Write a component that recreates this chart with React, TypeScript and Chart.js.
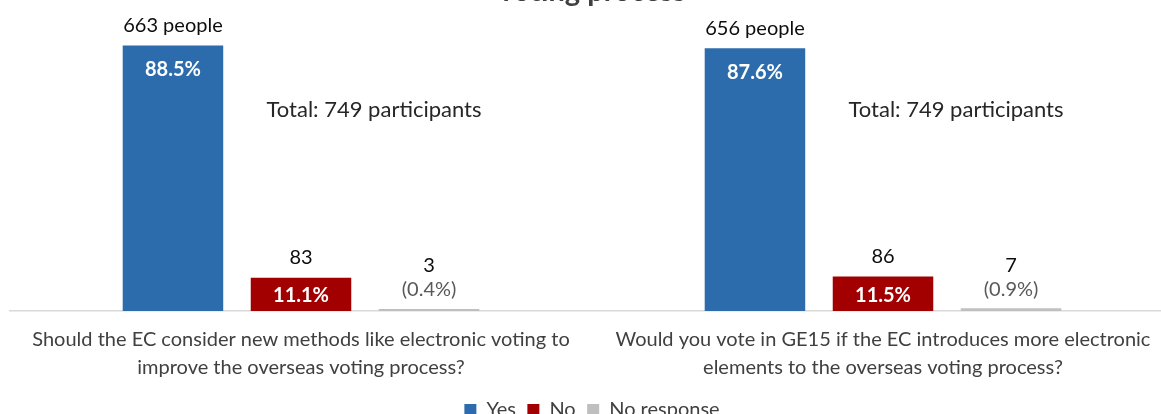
import React, { useEffect, useRef } from "react";
import { Chart, registerables } from "chart.js";

Chart.register(...registerables);

const titleText = "voting process";
const categories = [
  ["Should the EC consider new methods like electronic voting to", "improve the overseas voting process?"],
  ["Would you vote in GE15 if the EC introduces more electronic", "elements to the overseas voting process?"],
];
const seriesNames = ["Yes", "No", "No response"];
const yesCounts = [663, 656];
const noCounts = [83, 86];
const noResponseCounts = [3, 7];
const yesPct = ["88.5%", "87.6%"];
const noPct = ["11.1%", "11.5%"];
const noResponsePct = ["(0.4%)", "(0.9%)"];
const totalParticipants = [749, 749];

const FONT = "Lato, 'Open Sans', sans-serif";
const COLORS = ["#2C6CAC", "#A20000", "#BFBFBF"];

const labelPlugin = {
  id: "customLabels",
  afterDatasetsDraw(chart: any) {
    const ctx = chart.ctx;
    const area = chart.chartArea;
    const xs = chart.scales.x;
    ctx.save();
    // title (mostly outside the visible frame)
    ctx.font = `bold 29px ${FONT}`;
    ctx.fillStyle = "#404040";
    ctx.textAlign = "center";
    ctx.textBaseline = "alphabetic";
    ctx.fillText(titleText, (area.left + area.right) / 2, 1);

    ctx.textBaseline = "middle";
    const yesMeta = chart.getDatasetMeta(0);
    const noMeta = chart.getDatasetMeta(1);
    const nrMeta = chart.getDatasetMeta(2);
    categories.forEach((_, i) => {
      const yb = yesMeta.data[i];
      const nb = noMeta.data[i];
      const rb = nrMeta.data[i];
      // above labels
      ctx.font = `20px ${FONT}`;
      ctx.fillStyle = "#0D0D0D";
      ctx.fillText(`${yesCounts[i]} people`, yb.x, yb.y - 20);
      ctx.fillText(`${noCounts[i]}`, nb.x, nb.y - 20);
      ctx.fillText(`${noResponseCounts[i]}`, rb.x, rb.y - 43);
      ctx.fillStyle = "#595959";
      ctx.fillText(noResponsePct[i], rb.x, rb.y - 19);
      // inside labels
      ctx.font = `bold 20px ${FONT}`;
      ctx.fillStyle = "#FFFFFF";
      ctx.fillText(yesPct[i], yb.x, Math.min(yb.y + 24, yb.base - 15));
      ctx.fillText(noPct[i], nb.x, Math.min(nb.y + 24, nb.base - 15));
      // total annotation
      ctx.font = `22px ${FONT}`;
      ctx.fillStyle = "#262626";
      ctx.fillText(`Total: ${totalParticipants[i]} participants`, xs.getPixelForValue(i) + 73, area.top + 99);
    });
    ctx.restore();
  },
};

export default function App() {
  const ref = useRef<HTMLCanvasElement>(null);
  useEffect(() => {
    if (!ref.current) return;
    const common = { categoryPercentage: 0.66, barPercentage: 0.785, borderWidth: 0 };
    const chart = new Chart(ref.current, {
      type: "bar",
      data: {
        labels: categories as any,
        datasets: [
          { label: seriesNames[0], data: yesCounts, backgroundColor: COLORS[0], ...common },
          { label: seriesNames[1], data: noCounts, backgroundColor: COLORS[1], ...common },
          { label: seriesNames[2], data: noResponseCounts, backgroundColor: COLORS[2], minBarLength: 2, ...common },
        ],
      },
      options: {
        animation: false,
        responsive: true,
        maintainAspectRatio: false,
        layout: { padding: { left: 10, right: 6, top: 11, bottom: 0 } },
        scales: {
          x: {
            grid: { display: false, drawTicks: false },
            border: { display: true, color: "#D9D9D9", width: 1.5 },
            ticks: {
              font: { family: FONT, size: 20, lineHeight: 1.4 },
              color: "#404040",
              padding: 15,
              maxRotation: 0,
              autoSkip: false,
            },
            afterFit: (scale: any) => {
              scale.height = 77.5;
            },
          },
          y: { display: false, min: 0, max: totalParticipants[0] },
        },
        plugins: {
          legend: {
            position: "bottom",
            labels: {
              boxWidth: 12,
              boxHeight: 12,
              padding: 11.5,
              font: { family: FONT, size: 20 },
              color: "#404040",
            },
          },
          tooltip: { enabled: false },
          title: { display: false },
        },
      },
      plugins: [labelPlugin],
    });
    return () => chart.destroy();
  }, []);
  return (
    <div style={{ position: "fixed", left: 0, top: 0, width: 1161, height: 414, overflow: "hidden", background: "#fff" }}>
      <div style={{ position: "relative", width: 1180, height: 430 }}>
        <canvas ref={ref} />
      </div>
    </div>
  );
}
